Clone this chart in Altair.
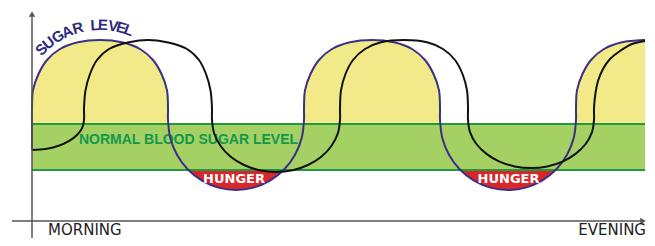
import math
import altair as alt
import pandas as pd

# ---- data (time since morning, blood sugar level) ----
sugar_t = [0, 0.01, 0.02, 1, 6.5, 15, 28, 46, 68, 90, 108, 121, 129.5, 135, 136,
           136.01, 138.3, 145.1, 155.9, 170, 186.4, 204, 221.6, 238, 252.1, 262.9, 269.7, 272,
           272.01, 273, 278.5, 287, 300, 318, 340, 362, 380, 393, 401.5, 407, 408,
           408.01, 410.3, 417.1, 427.9, 442, 458.4, 476, 493.6, 510, 524.1, 534.9, 541.7, 544,
           544.01, 545, 550.5, 559, 572, 590, 612, 613]
sugar_v = [71, 91, 113, 130.6, 147, 161, 172, 178.7, 181, 178.7, 172, 161, 147, 130.6, 113,
           101, 82.9, 66, 51.5, 40.4, 33.4, 31, 33.4, 40.4, 51.5, 66, 82.9, 101,
           113, 130.6, 147, 161, 172, 178.7, 181, 178.7, 172, 161, 147, 130.6, 113,
           101, 82.9, 66, 51.5, 40.4, 33.4, 31, 33.4, 40.4, 51.5, 66, 82.9, 101,
           113, 130.6, 147, 161, 172, 178.7, 181, 181]

delayed_t = [0, 13.5, 26, 36.8, 45, 50.2, 52,
             52.01, 53.5, 58, 65, 77, 97, 116, 135, 155, 167, 174, 178.5, 180,
             180.01, 182.2, 188.6, 198.7, 212, 227.4, 244, 260.6, 276, 289.3, 299.4, 305.8, 308,
             308.01, 309, 313.5, 321, 333, 349, 372, 395, 411, 423, 430.5, 435, 436,
             436.01, 438.1, 444.4, 454.5, 467.5, 482.7, 499, 515.3, 530.5, 543.5, 553.6, 559.9, 562,
             562.01, 563.5, 566, 571, 578, 588, 600, 613]
delayed_v = [71, 72, 75, 79.8, 86, 93.2, 101,
             113, 130.6, 147, 161, 172, 178.7, 181, 178.7, 172, 161, 147, 130.6, 113,
             101, 87.5, 75, 64.2, 56, 50.8, 49, 50.8, 56, 64.2, 75, 87.5, 101,
             113, 130.6, 147, 161, 172, 178.7, 181, 178.7, 172, 161, 147, 130.6, 113,
             101, 88.6, 77, 67.1, 59.4, 54.6, 53, 54.6, 59.4, 67.1, 77, 88.6, 101,
             113, 128, 140, 152, 162, 170, 177, 180]

band_low, band_high = 51, 97
day_start, day_end = 0, 613

time_labels = ["MORNING", "EVENING"]
band_label = "NORMAL BLOOD SUGAR LEVEL"
hunger_label = "HUNGER"
curve_label = "SUGAR LEVEL"

# ---- frame ----
W, H = 639, 230
xs = alt.Scale(domain=[-24, 615], nice=False, zero=False)
ys = alt.Scale(domain=[-17, 213], nice=False, zero=False)


def X(f):
    return alt.X(f, type="quantitative", scale=xs, axis=None)


def Y(f):
    return alt.Y(f, type="quantitative", scale=ys, axis=None)


sugar = pd.DataFrame({"t": sugar_t, "v": sugar_v})
sugar["i"] = range(len(sugar))
sugar["yel"] = sugar["v"].clip(lower=band_high)
sugar["red"] = sugar["v"].clip(upper=band_low)
sugar["hi"] = band_high
sugar["lo"] = band_low

delayed = pd.DataFrame({"t": delayed_t, "v": delayed_v})
delayed["i"] = range(len(delayed))

yellow = alt.Chart(sugar).mark_area(color="#f2ea88", interpolate="catmull-rom").encode(
    x=X("t"), y=Y("yel"), y2="hi")
red = alt.Chart(sugar).mark_area(color="#d8262b", interpolate="catmull-rom").encode(
    x=X("t"), y=Y("red"), y2="lo")

band_df = pd.DataFrame({"a": [day_start], "b": [day_end], "lo": [band_low], "hi": [band_high]})
band = alt.Chart(band_df).mark_rect(color="#a5d064").encode(
    x=X("a"), x2="b", y=Y("lo"), y2="hi")

edges_df = pd.DataFrame({"a": [day_start, day_start], "b": [day_end, day_end],
                         "v": [band_low, band_high]})
edges = alt.Chart(edges_df).mark_rule(color="#1f9a3e", strokeWidth=2).encode(
    x=X("a"), x2="b", y=Y("v"))

band_text = alt.Chart(pd.DataFrame({"t": [156.5], "v": [77], "s": [band_label]})).mark_text(
    font="Liberation Sans", fontWeight="bold", fontSize=14, color="#12994c",
    align="center", baseline="alphabetic").encode(x=X("t"), y=Y("v"), text="s:N")

sugar_line = alt.Chart(sugar).mark_line(color="#3b2f86", strokeWidth=2,
                                        interpolate="catmull-rom").encode(
    x=X("t"), y=Y("v"), order="i:Q")
delayed_line = alt.Chart(delayed).mark_line(color="#111111", strokeWidth=2,
                                            interpolate="catmull-rom").encode(
    x=X("t"), y=Y("v"), order="i:Q")

hunger = alt.Chart(pd.DataFrame({"t": [202, 476.5], "v": [38, 38],
                                 "s": [hunger_label, hunger_label]})).mark_text(
    font="DejaVu Sans", fontWeight="bold", fontSize=13, color="white",
    align="center", baseline="alphabetic").encode(x=X("t"), y=Y("v"), text="s:N")

# curved label along the first hump
angles = [-45.5, -38.7, -30.8, -23.5, -15.6, -3.5, 2.1, 9.2, 15.1, 20.5]
chars = [c for c in curve_label if c != " "]
arc_layers = []
for c, a in zip(chars, angles):
    r = 82
    row = {"t": 68 + r * math.sin(math.radians(a)),
           "v": 114 + r * math.cos(math.radians(a)), "c": c}
    arc_layers.append(alt.Chart(pd.DataFrame([row])).mark_text(
        font="Liberation Sans", fontWeight="bold", fontSize=15, color="#2e2a7c",
        align="center", baseline="middle", angle=a % 360).encode(
        x=X("t"), y=Y("v"), text="c:N"))

# axes
yaxis = alt.Chart(pd.DataFrame({"a": [0], "y1": [-17], "y2": [205]})).mark_rule(
    color="#555555", strokeWidth=1.5).encode(x=X("a"), y=Y("y1"), y2="y2")
xaxis = alt.Chart(pd.DataFrame({"a": [-20], "b": [609], "y1": [0]})).mark_rule(
    color="#555555", strokeWidth=1.5).encode(x=X("a"), x2="b", y=Y("y1"))
up_arrow = alt.Chart(pd.DataFrame({"t": [0], "v": [207]})).mark_point(
    shape="triangle-up", filled=True, size=40, color="#555555", opacity=1).encode(
    x=X("t"), y=Y("v"))
right_arrow = alt.Chart(pd.DataFrame({"t": [611], "v": [0]})).mark_point(
    shape="triangle-right", filled=True, size=40, color="#555555", opacity=1).encode(
    x=X("t"), y=Y("v"))

time_text = alt.Chart(pd.DataFrame({"t": [16], "v": [-13.5], "s": [time_labels[0]]})).mark_text(
    font="DejaVu Sans", fontSize=15, color="#222222", align="left",
    baseline="alphabetic").encode(x=X("t"), y=Y("v"), text="s:N")
time_text2 = alt.Chart(pd.DataFrame({"t": [614], "v": [-13.5], "s": [time_labels[1]]})).mark_text(
    font="DejaVu Sans", fontSize=15, color="#222222", align="right",
    baseline="alphabetic").encode(x=X("t"), y=Y("v"), text="s:N")

chart = alt.layer(
    yellow, red, band, edges, band_text, sugar_line, delayed_line, hunger,
    *arc_layers, yaxis, xaxis, up_arrow, right_arrow, time_text, time_text2
).properties(
    width=W, height=H, padding=0,
    autosize=alt.AutoSizeParams(type="none"),
    background="white",
).configure_view(stroke=None)

chart.save("out.html", embed_options={"renderer": "svg", "actions": False})
